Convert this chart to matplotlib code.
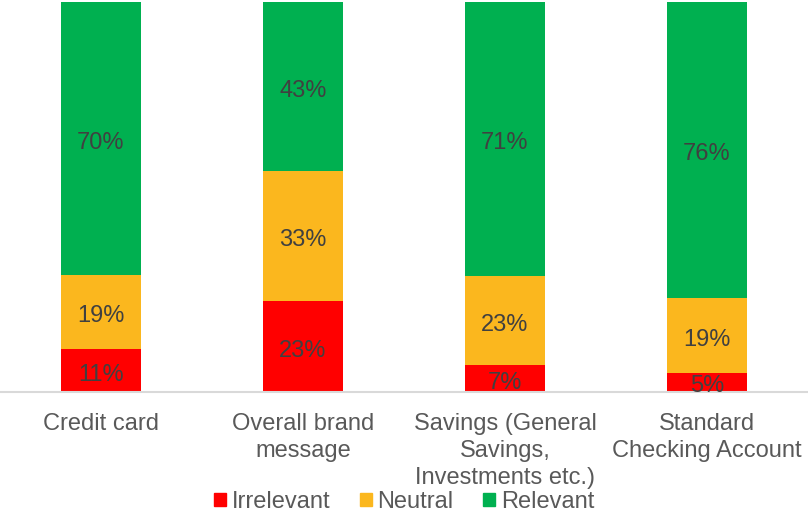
import matplotlib.pyplot as plt
import numpy as np
from matplotlib.patches import Patch

plt.rcParams['font.family'] = ['Liberation Sans', 'DejaVu Sans']

categories = ['Credit card', 'Overall brand\nmessage',
              'Savings (General\nSavings,\nInvestments etc.)',
              'Standard\nChecking Account']
irrelevant = [11, 23, 7, 5]
neutral = [19, 33, 23, 19]
relevant = [70, 43, 71, 76]

series = [('Irrelevant', irrelevant, '#FF0000'),
          ('Neutral', neutral, '#FBB71E'),
          ('Relevant', relevant, '#00B050')]

totals = np.array(irrelevant) + np.array(neutral) + np.array(relevant)
x = np.arange(len(categories))

fig = plt.figure(figsize=(8.08, 5.12), dpi=100)
ax = fig.add_axes([0, 120 / 512, 1, 390 / 512])

bottom = np.zeros(len(categories))
for name, vals, col in series:
    share = np.array(vals) / totals
    ax.bar(x, share, 0.4, bottom=bottom, color=col, label=name)
    for xi, b, s, v in zip(x, bottom, share, vals):
        ax.text(xi, b + s / 2 - 0.004, f'{v}%', ha='center', va='center_baseline',
                fontsize=17, color='#404040')
    bottom += share

ax.set_xlim(-0.5, 3.5)
ax.set_ylim(0, 1)
ax.set_yticks([])
ax.set_xticks(x)
ax.set_xticklabels(categories, fontsize=17, color='#595959', linespacing=1.3)
ax.tick_params(axis='x', length=0, pad=15)
for s in ['top', 'left', 'right']:
    ax.spines[s].set_visible(False)
ax.spines['bottom'].set_color('#D9D9D9')
ax.spines['bottom'].set_linewidth(1.5)

handles = [Patch(color=c, label=n) for n, _, c in series]
leg = fig.legend(handles=handles, loc='center', bbox_to_anchor=(0.5, 1 - 502 / 512),
                 ncol=3, frameon=False, fontsize=17, handlelength=0.5,
                 handleheight=0.5, handletextpad=0.25, columnspacing=1.25,
                 borderaxespad=0, borderpad=0)
for t in leg.get_texts():
    t.set_color('#595959')

fig.savefig('out.png', dpi=100)
